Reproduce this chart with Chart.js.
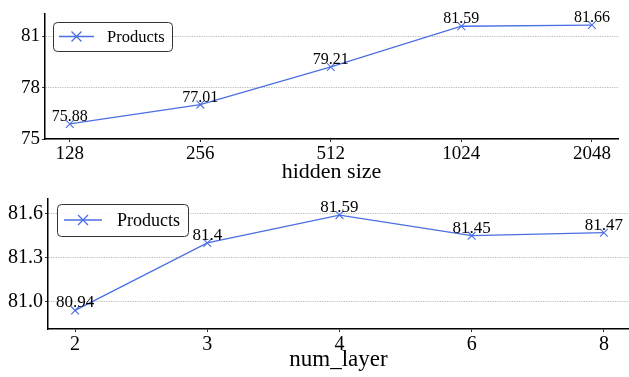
<!DOCTYPE html>
<html>
<head>
<meta charset="utf-8">
<script src="https://cdn.jsdelivr.net/npm/chart.js@4.4.1/dist/chart.umd.min.js"></script>
<style>
  html, body { margin: 0; padding: 0; background: #fff; }
  #wrap { position: relative; width: 629px; height: 377px; }
  .pane { position: absolute; left: 0; width: 629px; }
  #top { top: 0; height: 185px; }
  #bottom { top: 185px; height: 192px; }
</style>
</head>
<body>
<div id="wrap">
  <div class="pane" id="top"><canvas id="c1" width="629" height="185"></canvas></div>
  <div class="pane" id="bottom"><canvas id="c2" width="629" height="192"></canvas></div>
</div>
<script>
// hidden size sweep
const hiddenSizes = ['128', '256', '512', '1024', '2048'];
const hiddenScores = [75.88, 77.01, 79.21, 81.59, 81.66];
const hiddenTicks = [75, 78, 81];

// num_layer sweep
const layerCounts = ['2', '3', '4', '6', '8'];
const layerScores = [80.94, 81.40, 81.59, 81.45, 81.47];
const layerTicks = [81.0, 81.3, 81.6];

const seriesName = 'Products';
const LINE = '#4a6fe3';
const FONT = "'Liberation Serif', 'DejaVu Serif', serif";

// value annotations above each marker
const valueLabels = {
  id: 'valueLabels',
  afterDatasetsDraw(chart, args, opts) {
    const ctx = chart.ctx;
    const meta = chart.getDatasetMeta(0);
    const data = chart.data.datasets[0].data;
    ctx.save();
    ctx.font = opts.size + 'px ' + FONT;
    ctx.fillStyle = '#000';
    ctx.textAlign = 'center';
    ctx.textBaseline = 'alphabetic';
    meta.data.forEach((pt, i) => {
      ctx.fillText(String(data[i].y), pt.x, pt.y - 3);
    });
    ctx.restore();
  }
};

// framed legend in the upper-left corner
const boxLegend = {
  id: 'boxLegend',
  afterDraw(chart, args, o) {
    const ctx = chart.ctx;
    ctx.save();
    const r = 4;
    ctx.beginPath();
    ctx.roundRect(o.x + 0.5, o.y + 0.5, o.w, o.h, r);
    ctx.fillStyle = 'rgba(255,255,255,0.85)';
    ctx.fill();
    ctx.strokeStyle = '#333';
    ctx.lineWidth = 1;
    ctx.stroke();
    const cy = o.y + o.h / 2;
    ctx.strokeStyle = LINE;
    ctx.lineWidth = 1.3;
    ctx.beginPath();
    ctx.moveTo(o.x + o.l1, cy);
    ctx.lineTo(o.x + o.l2, cy);
    ctx.stroke();
    const mx = o.x + (o.l1 + o.l2) / 2, s = 5;
    ctx.beginPath();
    ctx.moveTo(mx - s, cy - s); ctx.lineTo(mx + s, cy + s);
    ctx.moveTo(mx - s, cy + s); ctx.lineTo(mx + s, cy - s);
    ctx.stroke();
    ctx.fillStyle = '#000';
    ctx.font = o.size + 'px ' + FONT;
    ctx.textAlign = 'left';
    ctx.textBaseline = 'middle';
    ctx.fillText(chart.data.datasets[0].label, o.x + o.tx, cy + 1);
    ctx.restore();
  }
};

function makeChart(id, cats, vals, yTicks, cfg) {
  const pts = vals.map((v, i) => ({ x: i, y: v }));
  return new Chart(document.getElementById(id), {
    type: 'line',
    data: {
      datasets: [{
        label: seriesName,
        data: pts,
        borderColor: LINE,
        backgroundColor: LINE,
        borderWidth: 1.3,
        pointStyle: 'crossRot',
        pointRadius: 5.5,
        pointBorderWidth: 1.1,
        pointBorderColor: LINE,
        tension: 0,
        clip: false
      }]
    },
    options: {
      responsive: false,
      animation: false,
      devicePixelRatio: 1,
      layout: {
        autoPadding: false,
        padding: { top: cfg.padTop, right: cfg.padRight, left: 0, bottom: 0 }
      },
      plugins: {
        legend: { display: false },
        tooltip: { enabled: false },
        valueLabels: { size: cfg.labelSize },
        boxLegend: cfg.legend
      },
      scales: {
        x: {
          type: 'linear',
          min: cfg.xMin, max: cfg.xMax,
          afterBuildTicks: s => { s.ticks = cats.map((c, i) => ({ value: i })); },
          afterFit: s => {
            s.height = cfg.xHeight;
            // the end labels sit well inside the axis range, so no edge padding is needed
            s.paddingLeft = 0;
            s.paddingRight = 0;
          },
          ticks: {
            callback: v => cats[v],
            font: { family: FONT, size: cfg.tickSize },
            color: '#000',
            padding: cfg.xTickPad,
            maxRotation: 0,
            autoSkip: false
          },
          grid: { display: true, drawOnChartArea: false, drawTicks: true, tickLength: 3, tickColor: '#000', tickWidth: 0.8 },
          border: { display: true, color: '#000', width: 1.5 },
          title: {
            display: true,
            text: cfg.xTitle,
            font: { family: FONT, size: cfg.titleSize, lineHeight: 1 },
            color: '#000',
            padding: { top: 0, bottom: cfg.titlePad }
          }
        },
        y: {
          min: cfg.yMin, max: cfg.yMax,
          afterBuildTicks: s => { s.ticks = yTicks.map(v => ({ value: v })); },
          afterFit: s => { s.width = cfg.yWidth; },
          ticks: {
            callback: v => cfg.yFmt(v),
            font: { family: FONT, size: cfg.tickSize },
            color: '#000',
            padding: 2
          },
          grid: {
            display: true, drawOnChartArea: true, drawTicks: true, tickLength: 3,
            color: '#a8a8a8', lineWidth: 0.8, tickColor: '#000', tickWidth: 0.8, tickBorderDash: []
          },
          border: { display: true, color: '#000', width: 1.5, dash: [1.2, 1.2] }
        }
      }
    },
    plugins: [valueLabels, boxLegend]
  });
}

makeChart('c1', hiddenSizes, hiddenScores, hiddenTicks, {
  padTop: 13, padRight: 11, xHeight: 46, yWidth: 45,
  xMin: -0.19, xMax: 4.2, yMin: 75, yMax: 82.34,
  tickSize: 19, titleSize: 22, titlePad: 2, xTickPad: 1, labelSize: 16,
  xTitle: 'hidden size',
  yFmt: v => String(v),
  legend: { x: 53, y: 22, w: 119, h: 29, l1: 6, l2: 41, tx: 54, size: 16.5 }
});

makeChart('c2', layerCounts, layerScores, layerTicks, {
  padTop: 10, padRight: 0, xHeight: 48, yWidth: 48,
  xMin: -0.205, xMax: 4.19, yMin: 80.813, yMax: 81.70,
  tickSize: 20, titleSize: 23, titlePad: 6, xTickPad: 1, labelSize: 17,
  xTitle: 'num_layer',
  yFmt: v => v.toFixed(1),
  legend: { x: 57, y: 19, w: 131, h: 32, l1: 7, l2: 45, tx: 60, size: 18 }
});
</script>
</body>
</html>
